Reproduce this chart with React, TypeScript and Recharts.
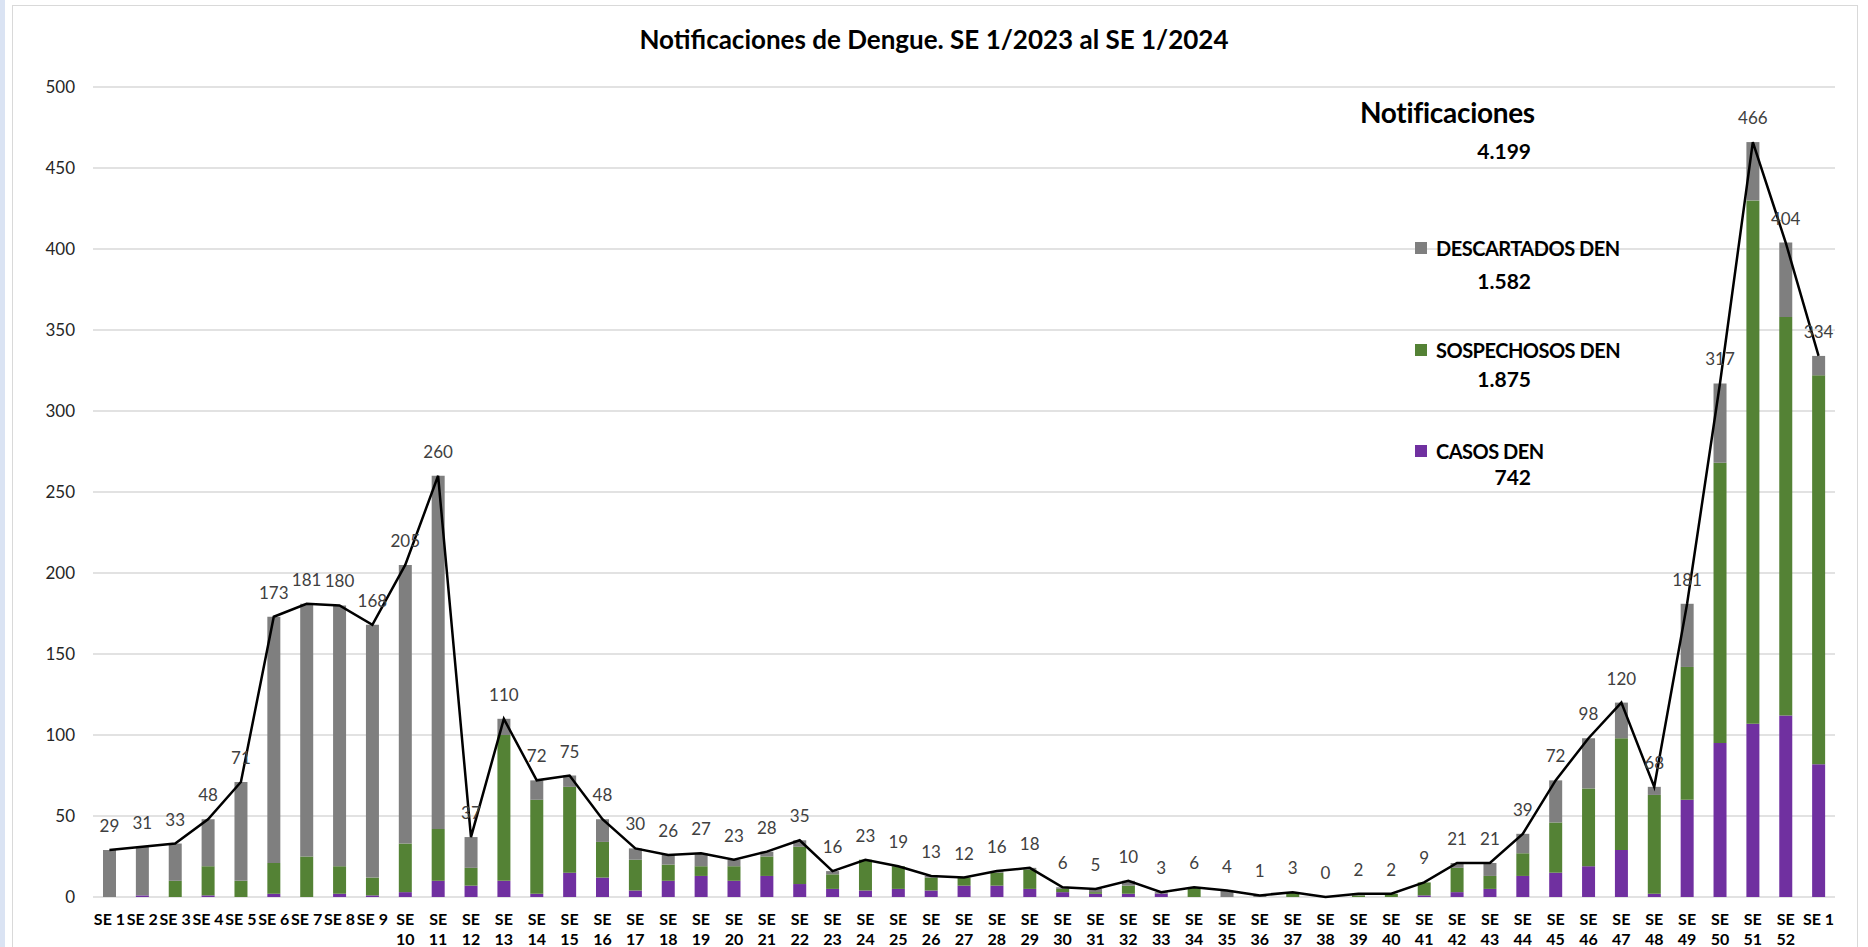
import React from 'react';
import { ComposedChart, Bar, Line, XAxis, YAxis, CartesianGrid, LabelList } from 'recharts';

// semanas epidemiológicas
const semanas = [
  'SE 1', 'SE 2', 'SE 3', 'SE 4', 'SE 5', 'SE 6', 'SE 7', 'SE 8', 'SE 9', 'SE 10',
  'SE 11', 'SE 12', 'SE 13', 'SE 14', 'SE 15', 'SE 16', 'SE 17', 'SE 18', 'SE 19', 'SE 20',
  'SE 21', 'SE 22', 'SE 23', 'SE 24', 'SE 25', 'SE 26', 'SE 27', 'SE 28', 'SE 29', 'SE 30',
  'SE 31', 'SE 32', 'SE 33', 'SE 34', 'SE 35', 'SE 36', 'SE 37', 'SE 38', 'SE 39', 'SE 40',
  'SE 41', 'SE 42', 'SE 43', 'SE 44', 'SE 45', 'SE 46', 'SE 47', 'SE 48', 'SE 49', 'SE 50',
  'SE 51', 'SE 52', 'SE 1',
];

const casos = [
  0, 1, 0, 1, 0, 2, 0, 2, 1, 3,
  10, 7, 10, 2, 15, 12, 4, 10, 13, 10,
  13, 8, 5, 4, 5, 4, 7, 7, 5, 3,
  2, 2, 2, 0, 0, 0, 0, 0, 0, 0,
  1, 3, 5, 13, 15, 19, 29, 2, 60, 95,
  107, 112, 82,
];

const sospechosos = [
  0, 0, 10, 18, 10, 19, 25, 17, 11, 30,
  32, 11, 90, 58, 53, 22, 19, 10, 6, 9,
  12, 23, 9, 19, 14, 8, 5, 8, 12, 2,
  1, 5, 0, 6, 0, 0, 3, 0, 1, 2,
  8, 15, 8, 14, 31, 48, 69, 61, 82, 173,
  323, 246, 240,
];

const descartados = [
  29, 30, 23, 29, 61, 152, 156, 161, 156, 172,
  218, 19, 10, 12, 7, 14, 7, 6, 8, 4,
  3, 4, 2, 0, 0, 1, 0, 1, 1, 1,
  2, 3, 1, 0, 4, 1, 0, 0, 1, 0,
  0, 3, 8, 12, 26, 31, 22, 5, 39, 49,
  36, 46, 12,
];

const notificaciones = [
  29, 31, 33, 48, 71, 173, 181, 180, 168, 205,
  260, 37, 110, 72, 75, 48, 30, 26, 27, 23,
  28, 35, 16, 23, 19, 13, 12, 16, 18, 6,
  5, 10, 3, 6, 4, 1, 3, 0, 2, 2,
  9, 21, 21, 39, 72, 98, 120, 68, 181, 317,
  466, 404, 334,
];

const yTicks = [0, 50, 100, 150, 200, 250, 300, 350, 400, 450, 500];

const totales = [
  { nombre: 'DESCARTADOS DEN', total: '1.582', color: '#7f7f7f' },
  { nombre: 'SOSPECHOSOS DEN', total: '1.875', color: '#548235' },
  { nombre: 'CASOS DEN', total: '742', color: '#7030a0' },
];

const data = semanas.map((s, i) => ({
  semana: s,
  casos: casos[i],
  sospechosos: sospechosos[i],
  descartados: descartados[i],
  total: notificaciones[i],
}));

const FONT = "Lato, 'Liberation Sans', sans-serif";

function SemanaTick({ x, y, payload }: any) {
  const label = semanas[payload.index] ?? payload.value;
  const [se, num] = label.split(' ');
  const twoLines = Number(num) >= 10;
  return (
    <g transform={`translate(${x},${y})`}>
      {twoLines ? (
        <text textAnchor="middle" fontFamily={FONT} fontWeight="bold" fontSize={16} fill="#000">
          <tspan x={0} dy={20}>{se}</tspan>
          <tspan x={0} dy={20}>{num}</tspan>
        </text>
      ) : (
        <text textAnchor="middle" fontFamily={FONT} fontWeight="bold" fontSize={16} fill="#000" x={0} dy={20}>
          {label}
        </text>
      )}
    </g>
  );
}

export default function App() {
  return (
    <div style={{ position: 'absolute', left: 0, top: 0, width: 1868, height: 947, background: '#fff', overflow: 'hidden', fontFamily: FONT }}>
      {/* franja y marco */}
      <div style={{ position: 'absolute', left: 0, top: 0, width: 5, height: 947, background: '#dae3f3' }} />
      <div style={{ position: 'absolute', left: 12, top: 5, width: 1844, height: 960, border: '1px solid #d9d9d9' }} />

      <div style={{ position: 'absolute', left: 0, top: 23, width: 1868, textAlign: 'center', fontSize: 26, fontWeight: 'bold', color: '#000' }}>
        Notificaciones de Dengue. SE 1/2023 al SE 1/2024
      </div>

      <div style={{ position: 'absolute', left: 0, top: 0 }}>
        <ComposedChart width={1868} height={947} data={data} margin={{ top: 87, right: 33, bottom: 0, left: 0 }} barCategoryGap={0}>
          <CartesianGrid vertical={false} stroke="#d9d9d9" strokeWidth={1.5} />
          <XAxis
            dataKey="semana"
            interval={0}
            height={50}
            axisLine={false}
            tickLine={false}
            tick={<SemanaTick />}
          />
          <YAxis
            domain={[0, 500]}
            ticks={yTicks}
            width={93}
            axisLine={false}
            tickLine={false}
            tickMargin={12}
            tick={{ fontSize: 17, fill: '#262626', fontFamily: FONT }}
          />
          <Bar dataKey="casos" stackId="a" fill="#7030a0" barSize={13} isAnimationActive={false} />
          <Bar dataKey="sospechosos" stackId="a" fill="#548235" barSize={13} isAnimationActive={false} />
          <Bar dataKey="descartados" stackId="a" fill="#7f7f7f" barSize={13} isAnimationActive={false} />
          <Line type="linear" dataKey="total" stroke="#000" strokeWidth={2.5} dot={false} isAnimationActive={false}>
            <LabelList dataKey="total" position="top" offset={18} fontSize={17} fill="#404040" fontFamily={FONT} />
          </Line>
        </ComposedChart>
      </div>

      {/* leyenda con totales */}
      <div style={{ position: 'absolute', left: 1360, top: 95, fontSize: 28, fontWeight: 'bold', color: '#000', letterSpacing: -0.3 }}>Notificaciones</div>
      <div style={{ position: 'absolute', left: 1400, width: 131, top: 138, textAlign: 'right', fontSize: 21, fontWeight: 'bold', color: '#000' }}>4.199</div>
      {totales.map((t, i) => {
        const tops = [236, 338, 439];
        const valTops = [268, 366, 464];
        return (
          <React.Fragment key={t.nombre}>
            <div style={{ position: 'absolute', left: 1415, top: tops[i] + 6, width: 12, height: 12, background: t.color }} />
            <div style={{ position: 'absolute', left: 1436, top: tops[i], fontSize: 20, fontWeight: 'bold', color: '#000', whiteSpace: 'nowrap', letterSpacing: -0.5 }}>{t.nombre}</div>
            <div style={{ position: 'absolute', left: 1400, width: 131, top: valTops[i], textAlign: 'right', fontSize: 21, fontWeight: 'bold', color: '#000' }}>{t.total}</div>
          </React.Fragment>
        );
      })}
    </div>
  );
}
